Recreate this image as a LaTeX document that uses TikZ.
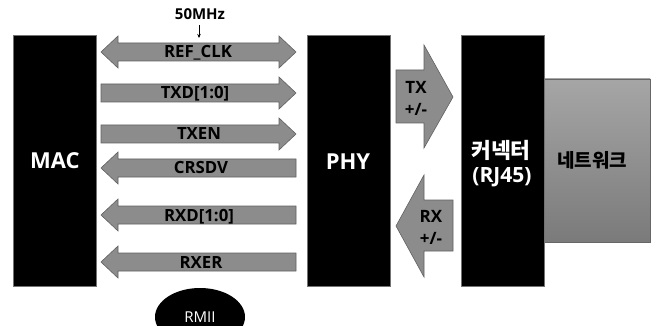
\documentclass[tikz,border=0pt]{standalone}
\usepackage{fontspec}
\setmainfont{Open Sans}
\newfontfamily\kr{Noto Sans CJK KR}
\usetikzlibrary{shapes.geometric,arrows.meta}
\begin{document}
\begin{tikzpicture}[x=1pt,y=-1pt,
  blk/.style={fill=black,draw=black!55,line width=0.6pt,inner sep=0pt},
  barrow/.style={fill=black!45,draw=black!62,line width=0.6pt},
  lbl/.style={font=\bfseries\fontsize{16.8}{16.8}\selectfont,inner sep=0pt,anchor=base},
  big/.style={font=\bfseries\fontsize{22}{22}\selectfont,text=white,align=center,inner sep=0pt}]
\clip (0,0) rectangle (656,326);
\fill[white] (0,0) rectangle (656,326);
% network box
\shade[top color=black!35,bottom color=black!52,draw=black!60,line width=0.6pt] (543,79) rectangle (650,242);
\node[font=\kr\bfseries\fontsize{19}{19}\selectfont,inner sep=0pt] (net) at (592,160) {네트워크};
% black boxes
\node[blk,minimum width=83pt,minimum height=251pt,anchor=north west] (mac) at (13,35) {};
\node[blk,minimum width=83pt,minimum height=251pt,anchor=north west] (phy) at (307,35) {};
\node[blk,minimum width=83pt,minimum height=251pt,anchor=north west] (con) at (461,35) {};
\node[big] (mact) at (55,161) {MAC};
\node[big] (phyt) at (348,162) {PHY};
\node[big,font=\kr\bfseries\fontsize{21.5}{21.5}\selectfont] (cont1) at (501,150) {커넥터};
\node[big,font=\bfseries\fontsize{21}{21}\selectfont] (cont2) at (502,177) {(RJ45)};
% RMII block arrows
\draw[barrow] (101,52)--(118,36)--(118,43)--(279,43)--(279,36)--(296,52)--(279,68)--(279,61)--(118,61)--(118,68)--cycle;
\draw[barrow] (101,84)--(279,84)--(279,77)--(296,93)--(279,109)--(279,102)--(101,102)--cycle;
\draw[barrow] (101,125)--(279,125)--(279,118)--(296,134)--(279,150)--(279,143)--(101,143)--cycle;
\draw[barrow] (296,159)--(118,159)--(118,152)--(101,168)--(118,184)--(118,177)--(296,177)--cycle;
\draw[barrow] (296,206)--(118,206)--(118,199)--(101,215)--(118,231)--(118,224)--(296,224)--cycle;
\draw[barrow] (296,253)--(118,253)--(118,246)--(101,262)--(118,278)--(118,271)--(296,271)--cycle;
\node[lbl] (refclk) at (198,58) {REF\_CLK};
\node[lbl] (txd) at (195,99) {TXD[1:0]};
\node[lbl] (txen) at (199,140) {TXEN};
\node[lbl] (crsdv) at (201,174) {CRSDV};
\node[lbl] (rxd) at (199,221) {RXD[1:0]};
\node[lbl] (rxer) at (201,268) {RXER};
% 50MHz
\node[font=\bfseries\fontsize{15}{15}\selectfont,inner sep=0pt] (mhz) at (200,14) {50MHz};
\coordinate (clk) at (199,38);
\draw[line width=0.7pt,-{Stealth[length=4pt,width=3.5pt]}] (199,25) -- (clk);
% TX / RX arrows
\draw[barrow] (396,70)--(424,70)--(424,45)--(453,97)--(424,148)--(424,123)--(396,123)--cycle;
\draw[barrow] (453,200)--(424,200)--(424,175)--(396,226)--(424,277)--(424,251)--(453,251)--cycle;
\node[font=\bfseries\fontsize{17}{22}\selectfont,align=center,inner sep=0pt] (tx) at (416,98) {TX\\+/-};
\node[font=\bfseries\fontsize{17}{22}\selectfont,align=center,inner sep=0pt] (rx) at (431,227) {RX\\+/-};
% RMII ellipse
\node[ellipse,fill=black,minimum width=90pt,minimum height=58pt,text=white,font=\fontsize{15}{15}\selectfont] (rmii) at (200,317) {RMII};
\end{tikzpicture}
\end{document}
